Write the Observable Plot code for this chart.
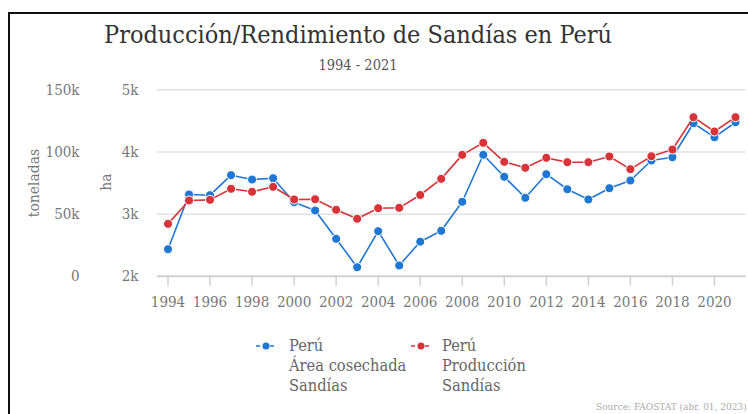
<!DOCTYPE html>
<html><head><meta charset="utf-8">
<script src="https://cdn.jsdelivr.net/npm/d3@7"></script>
<script src="https://cdn.jsdelivr.net/npm/@observablehq/plot@0.6"></script>
<style>
body{margin:0;width:748px;height:414px;overflow:hidden;background:#fff;position:relative;font-family:"DejaVu Serif Condensed","DejaVu Serif",serif;}
#frame{position:absolute;left:8px;top:12px;width:780px;height:440px;border-left:2px solid #111;border-top:2px solid #111;box-sizing:border-box;}
#chart{position:absolute;left:0;top:0;}
.t{position:absolute;white-space:nowrap;}
#title{left:0;width:716px;text-align:center;top:20px;font-size:25px;color:#333;}
#sub{left:0;width:716px;text-align:center;top:57px;font-size:14.5px;color:#555;}
.ylab{font-size:15.5px;color:#777;transform:translate(-50%,-50%) rotate(-90deg);}
.leg{font-size:16.3px;color:#666;line-height:20px;}
#src{left:596px;top:401px;font-size:10px;line-height:12px;color:#aaa;}
</style></head>
<body>
<div id="frame"></div>
<div id="chart"></div>
<div class="t" id="title">Producción/Rendimiento de Sandías en Perú</div>
<div class="t" id="sub">1994 - 2021</div>
<div class="t ylab" style="left:34px;top:183px;">toneladas</div>
<div class="t ylab" style="left:106px;top:182px;">ha</div>
<div id="legend"></div>
<div class="t" id="src">Source: FAOSTAT (abr. 01, 2023)</div>
<script>
const years = [1994,1995,1996,1997,1998,1999,2000,2001,2002,2003,2004,2005,2006,2007,2008,2009,2010,2011,2012,2013,2014,2015,2016,2017,2018,2019,2020,2021];
const areaHa = [2436,3316,3305,3627,3557,3578,3192,3059,2603,2146,2726,2174,2557,2732,3199,3955,3601,3263,3643,3401,3236,3418,3541,3863,3916,4463,4238,4479];
const produccionT = [42200,61000,61500,70400,68000,72000,61800,62000,53500,46300,54800,55100,65400,78400,97700,107400,92100,87300,95300,91800,91800,96400,86200,96600,102000,128000,116500,128000];
const xTicks = [1994,1996,1998,2000,2002,2004,2006,2008,2010,2012,2014,2016,2018,2020];
const haTicks = [2000,3000,4000,5000];
const tonTicks = [0,50000,100000,150000];
const seriesNames = [["Perú","Área cosechada","Sandías"],["Perú","Producción","Sandías"]];
const colors = ["#1f77d4","#d9333a"];

// map tonnes onto the ha scale: 0 t -> 2k ha, 150k t -> 5k ha
const tToHa = t => 2000 + t / 50;
const area = years.map((y,i)=>({year:y, v:areaHa[i]}));
const prod = years.map((y,i)=>({year:y, v:tToHa(produccionT[i])}));
const fmtK = d => d === 0 ? "0" : (d/1000) + "k";
const font = '"DejaVu Serif Condensed","DejaVu Serif",serif';

const chart = Plot.plot({
  width:748, height:320,
  marginLeft:157, marginRight:2.5, marginTop:89.35, marginBottom:44.2,
  x:{domain:[1993.5,2021.5], axis:null},
  y:{domain:[2000,5000], axis:null},
  style:{fontFamily:font, fontSize:"15px", color:"#777", background:"transparent"},
  marks:[
    Plot.gridY([3000,4000,5000], {stroke:"#e2e2e2", strokeOpacity:1, strokeWidth:1.5}),
    Plot.ruleY([2000], {stroke:"#d0d0d0", strokeWidth:2}),
    Plot.axisX({ticks:xTicks, tickSize:10, tickPadding:10, tickFormat:d=>String(d), stroke:"#d0d0d0", strokeWidth:1.5, label:null, fill:"#777"}),
    Plot.axisY({ticks:haTicks, tickSize:0, tickPadding:19, tickFormat:fmtK, label:null, fill:"#777"}),
    Plot.axisY({ticks:tonTicks.map(tToHa), tickSize:0, tickPadding:78, tickFormat:(d,i)=>fmtK(tonTicks[i]), label:null, fill:"#777"}),
    Plot.line(area, {x:"year", y:"v", stroke:colors[0], strokeWidth:1.6}),
    Plot.dot(area, {x:"year", y:"v", r:4.5, fill:colors[0], stroke:"#fff", strokeWidth:1}),
    Plot.line(prod, {x:"year", y:"v", stroke:colors[1], strokeWidth:1.6}),
    Plot.dot(prod, {x:"year", y:"v", r:4.5, fill:colors[1], stroke:"#fff", strokeWidth:1})
  ]
});
document.getElementById("chart").appendChild(chart);

// legend
const leg = document.getElementById("legend");
const legX = [[255,289],[410,442]];
seriesNames.forEach((lines,i)=>{
  const [mx, tx] = legX[i];
  const m = document.createElementNS("http://www.w3.org/2000/svg","svg");
  m.setAttribute("width",22); m.setAttribute("height",10);
  m.style.position="absolute"; m.style.left=mx+"px"; m.style.top="341px";
  m.innerHTML = `<line x1="1" x2="21" y1="5" y2="5" stroke="${colors[i]}" stroke-width="1.5" stroke-dasharray="4,3"/><circle cx="11" cy="5" r="3.5" fill="${colors[i]}"/>`;
  leg.appendChild(m);
  const d = document.createElement("div");
  d.className="t leg"; d.style.left=tx+"px"; d.style.top="336px";
  d.innerHTML = lines.join("<br>");
  leg.appendChild(d);
});
</script>
</body></html>
